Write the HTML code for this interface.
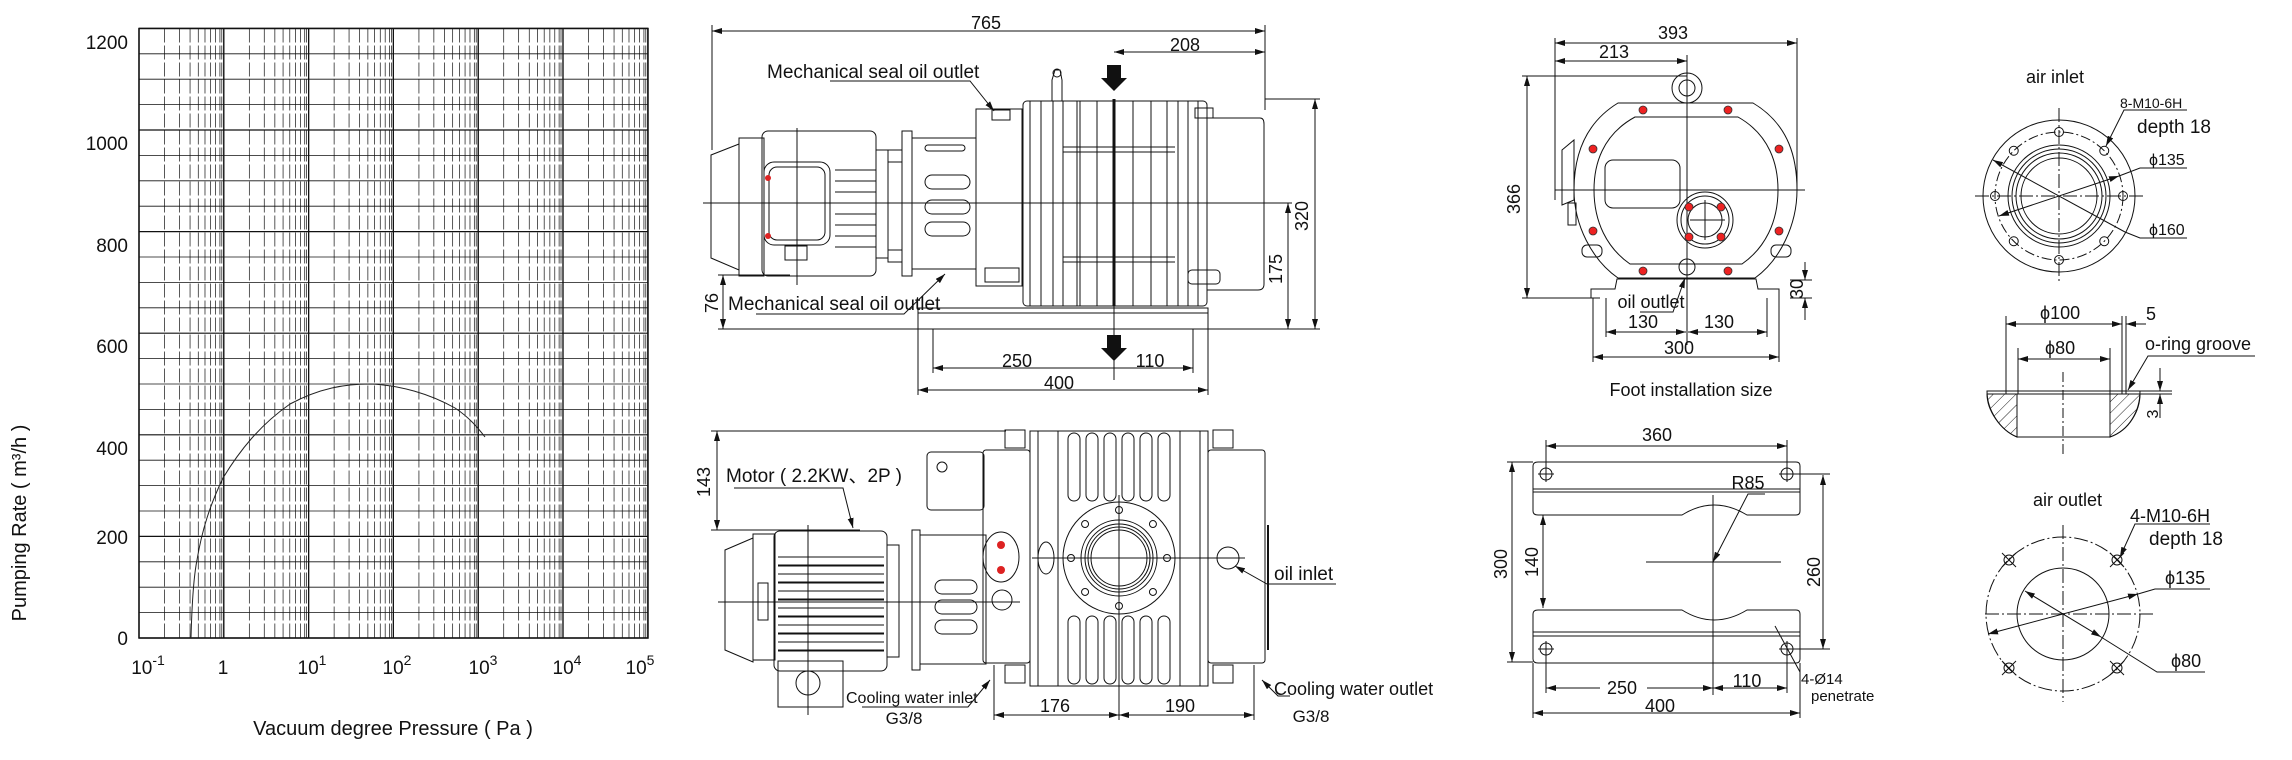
<!DOCTYPE html>
<html><head><meta charset="utf-8">
<style>
html,body{margin:0;padding:0;background:#fff;}
svg{display:block;}
text{font-family:"Liberation Sans",Arial,sans-serif;fill:#111;}
</style></head>
<body>
<svg id="s" width="2292" height="760" viewBox="0 0 2292 760" xmlns="http://www.w3.org/2000/svg">
<defs>
<marker id="a" viewBox="0 0 10 6" refX="10" refY="3" markerWidth="10" markerHeight="6" orient="auto-start-reverse" markerUnits="userSpaceOnUse"><path d="M0,0 L10,3 L0,6 z" fill="#111"/></marker>
<pattern id="h" width="8" height="8" patternUnits="userSpaceOnUse" patternTransform="rotate(45)"><line x1="0" y1="0" x2="0" y2="8" stroke="#222" stroke-width="1"/></pattern>
</defs>
<g id="grid" stroke="#111" fill="none"></g>
<rect x="139" y="28.5" width="509" height="609.5" fill="none" stroke="#111" stroke-width="1.5"/>
<path d="M191,638 C192,600 194,575 197,560 C202,530 210,505 223,478 C240,450 260,425 290,404 C320,388 345,384 370,384 C400,385 430,394 455,408 C470,418 478,428 485,437" fill="none" stroke="#222" stroke-width="1"/>
<g font-size="19" text-anchor="end">
<text x="128" y="49">1200</text><text x="128" y="150">1000</text><text x="128" y="252">800</text><text x="128" y="353">600</text><text x="128" y="455">400</text><text x="128" y="544">200</text><text x="128" y="645">0</text>
</g>
<g font-size="19" text-anchor="middle">
<text x="148" y="674">10<tspan dy="-9" font-size="14">-1</tspan></text>
<text x="223" y="674">1</text>
<text x="312" y="674">10<tspan dy="-9" font-size="14">1</tspan></text>
<text x="397" y="674">10<tspan dy="-9" font-size="14">2</tspan></text>
<text x="483" y="674">10<tspan dy="-9" font-size="14">3</tspan></text>
<text x="567" y="674">10<tspan dy="-9" font-size="14">4</tspan></text>
<text x="640" y="674">10<tspan dy="-9" font-size="14">5</tspan></text>
</g>
<text x="393" y="735" font-size="20" text-anchor="middle">Vacuum degree Pressure ( Pa )</text>
<text transform="translate(26,523) rotate(-90)" font-size="20" text-anchor="middle">Pumping Rate ( m³/h )</text>

<g stroke="#111" fill="none" stroke-width="1">
<line x1="712" y1="31" x2="1265" y2="31" marker-start="url(#a)" marker-end="url(#a)"/>
<line x1="712" y1="25" x2="712" y2="150"/><line x1="1265" y1="25" x2="1265" y2="110"/>
<line x1="1114" y1="52" x2="1265" y2="52" marker-start="url(#a)" marker-end="url(#a)"/>
<line x1="703" y1="203" x2="1292" y2="203"/>
<line x1="718" y1="329" x2="1320" y2="329"/>
<line x1="718" y1="275" x2="790" y2="275"/>
<line x1="723" y1="275" x2="723" y2="329" marker-start="url(#a)" marker-end="url(#a)"/>
<line x1="1265" y1="99" x2="1320" y2="99"/>
<line x1="1315" y1="99" x2="1315" y2="329" marker-start="url(#a)" marker-end="url(#a)"/>
<line x1="1288" y1="203" x2="1288" y2="329" marker-start="url(#a)" marker-end="url(#a)"/>
<path d="M739,144 L711,155 L711,258 L739,270 Z"/>
<rect x="739" y="138" width="25" height="138"/>
<rect x="762" y="131" width="114" height="145" rx="6"/>
<rect x="764" y="162" width="66" height="83" rx="10"/>
<rect x="769" y="167" width="56" height="73" rx="8"/>
<line x1="797" y1="128" x2="797" y2="285"/>
<rect x="785" y="246" width="22" height="14"/>
<g id="mfins"></g>
<rect x="876" y="150" width="12" height="108"/>
<rect x="888" y="150" width="14" height="12"/><rect x="888" y="250" width="14" height="12"/>
<rect x="902" y="131" width="10" height="145"/>
<rect x="912" y="138" width="64" height="131"/>
<rect x="925" y="175" width="45" height="14" rx="7"/><rect x="925" y="200" width="45" height="14" rx="7"/><rect x="925" y="222" width="45" height="14" rx="7"/>
<rect x="925" y="145" width="40" height="6" rx="3"/>
<rect x="976" y="109" width="46" height="177"/>
<rect x="992" y="110" width="18" height="10"/>
<rect x="985" y="268" width="34" height="14"/>
<rect x="1023" y="101" width="184" height="205" rx="4"/>
<path d="M1052,101 L1052,80 L1055,70 L1060,70 L1062,80 L1062,101"/>
<circle cx="1057" cy="73" r="4"/>
<g id="bfins"></g>
<line x1="1063" y1="147" x2="1175" y2="147"/><line x1="1063" y1="152" x2="1175" y2="152"/>
<line x1="1063" y1="257" x2="1175" y2="257"/><line x1="1063" y1="262" x2="1175" y2="262"/>
<path d="M1207,118 L1260,118 Q1264,118 1264,124 L1264,284 Q1264,290 1258,290 L1207,290"/>
<rect x="1195" y="108" width="18" height="10"/>
<rect x="1188" y="270" width="32" height="14" rx="4"/>
<rect x="918" y="308" width="290" height="21"/>
<line x1="918" y1="313" x2="1208" y2="313"/>
<line x1="918" y1="329" x2="918" y2="395"/><line x1="933" y1="329" x2="933" y2="373"/>
<line x1="1193" y1="329" x2="1193" y2="373"/><line x1="1208" y1="329" x2="1208" y2="395"/>
<line x1="933" y1="368" x2="1193" y2="368" marker-start="url(#a)" marker-end="url(#a)"/>
<line x1="918" y1="390" x2="1208" y2="390" marker-start="url(#a)" marker-end="url(#a)"/>
<polyline points="830,81 970,81 994,111" marker-end="url(#a)"/>
<polyline points="756,314 904,314 945,274" marker-end="url(#a)"/>
</g>
<line x1="1114" y1="99" x2="1114" y2="306" stroke="#111" stroke-width="3"/>
<line x1="1114" y1="306" x2="1114" y2="380" stroke="#111"/>
<path d="M1107,65 h14 v13 h6 l-13,13 l-13,-13 h6z" fill="#111"/>
<path d="M1107,335 h14 v13 h6 l-13,13 l-13,-13 h6z" fill="#111"/>
<circle cx="768" cy="178" r="3" fill="#d22"/><circle cx="768" cy="236" r="3" fill="#d22"/>
<g font-size="18" text-anchor="middle">
<text x="986" y="29">765</text><text x="1185" y="51">208</text>
<text x="1017" y="367">250</text><text x="1150" y="367">110</text><text x="1059" y="389">400</text>
<text transform="translate(1308,216) rotate(-90)">320</text>
<text transform="translate(1282,269) rotate(-90)">175</text>
<text transform="translate(718,303) rotate(-90)">76</text>
</g>
<text x="767" y="78" font-size="19">Mechanical seal oil outlet</text>
<text x="728" y="310" font-size="19">Mechanical seal oil outlet</text>

<g stroke="#111" fill="none" stroke-width="1">
<line x1="711" y1="431" x2="1006" y2="431"/>
<line x1="711" y1="530" x2="860" y2="530"/>
<line x1="717" y1="431" x2="717" y2="530" marker-start="url(#a)" marker-end="url(#a)"/>
<polyline points="734,488 843,488 853,528" marker-end="url(#a)"/>
<path d="M753,538 L725,550 L725,650 L753,662 Z"/>
<rect x="753" y="534" width="22" height="126"/>
<rect x="758" y="583" width="10" height="37"/>
<rect x="774" y="531" width="113" height="140" rx="6"/>
<g id="mfins2"></g>
<rect x="778" y="661" width="65" height="46"/>
<circle cx="808" cy="683" r="12"/>
<line x1="808" y1="525" x2="808" y2="715"/>
<rect x="887" y="545" width="12" height="112"/>
<rect x="912" y="530" width="8" height="140"/>
<rect x="920" y="535" width="66" height="129"/>
<rect x="935" y="580" width="42" height="14" rx="7"/><rect x="935" y="600" width="42" height="14" rx="7"/><rect x="935" y="620" width="42" height="14" rx="7"/>
<rect x="927" y="452" width="57" height="58" rx="4"/>
<circle cx="942" cy="467" r="5"/>
<rect x="983" y="450" width="47" height="213" rx="3"/>
<ellipse cx="1001" cy="557" rx="18" ry="25"/>
<circle cx="1002" cy="600" r="10"/>
<rect x="1030" y="431" width="178" height="255"/>
<line x1="1038" y1="431" x2="1038" y2="686"/><line x1="1058" y1="431" x2="1058" y2="686"/>
<line x1="1180" y1="431" x2="1180" y2="686"/><line x1="1200" y1="431" x2="1200" y2="686"/>
<g id="tfins"></g>
<circle cx="1119" cy="558" r="56"/>
<circle cx="1119" cy="558" r="38"/><circle cx="1119" cy="558" r="34"/><circle cx="1119" cy="558" r="31"/><circle cx="1119" cy="558" r="28"/>
<g id="fb"></g>
<ellipse cx="1046" cy="558" rx="8" ry="16"/>
<rect x="1208" y="450" width="57" height="213" rx="3"/>
<circle cx="1228" cy="558" r="11"/>
<line x1="1268" y1="525" x2="1268" y2="650" stroke-width="2"/>
<line x1="1032" y1="558" x2="1245" y2="558"/>
<line x1="718" y1="602" x2="1020" y2="602"/>
<line x1="1119" y1="495" x2="1119" y2="720"/>
<rect x="1005" y="430" width="20" height="18"/><rect x="1213" y="430" width="20" height="18"/>
<rect x="1005" y="665" width="20" height="18"/><rect x="1213" y="665" width="20" height="18"/>
<polyline points="1336,584 1267,584 1235,566" marker-end="url(#a)"/>
<line x1="994" y1="665" x2="994" y2="720"/><line x1="1254" y1="665" x2="1254" y2="720"/>
<line x1="994" y1="715" x2="1119" y2="715" marker-start="url(#a)" marker-end="url(#a)"/>
<line x1="1119" y1="715" x2="1254" y2="715" marker-start="url(#a)" marker-end="url(#a)"/>
<polyline points="862,707 968,707 990,680" marker-end="url(#a)"/>
<polyline points="1290,696 1278,696 1262,680" marker-end="url(#a)"/>
</g>
<circle cx="1001" cy="545" r="4" fill="#d22"/><circle cx="1001" cy="570" r="4" fill="#d22"/>
<g font-size="18" text-anchor="middle">
<text transform="translate(710,482) rotate(-90)">143</text>
<text x="1055" y="712">176</text><text x="1180" y="712">190</text>
<text x="904" y="724" font-size="17">G3/8</text><text x="1311" y="722" font-size="17">G3/8</text>
</g>
<text x="726" y="482" font-size="19">Motor ( 2.2KW、2P )</text>
<text x="1274" y="580" font-size="19">oil inlet</text>
<text x="846" y="703" font-size="16">Cooling water inlet</text>
<text x="1274" y="695" font-size="18">Cooling water outlet</text>

<g stroke="#111" fill="none" stroke-width="1">
<line x1="1555" y1="43" x2="1797" y2="43" marker-start="url(#a)" marker-end="url(#a)"/>
<line x1="1555" y1="61" x2="1687" y2="61" marker-start="url(#a)" marker-end="url(#a)"/>
<line x1="1555" y1="38" x2="1555" y2="200"/><line x1="1797" y1="38" x2="1797" y2="190"/>
<line x1="1522" y1="76" x2="1687" y2="76"/><line x1="1522" y1="298" x2="1600" y2="298"/>
<line x1="1527" y1="76" x2="1527" y2="298" marker-start="url(#a)" marker-end="url(#a)"/>
<path d="M1618,103 L1753,103 C1790,125 1797,160 1797,190 C1797,225 1780,260 1755,278 L1618,278 C1592,260 1574,225 1574,190 C1574,160 1582,125 1618,103 Z"/>
<path d="M1635,117 L1738,117 C1770,135 1778,165 1778,190 C1778,222 1765,248 1742,264 L1630,264 C1607,248 1594,222 1594,190 C1594,165 1602,135 1635,117 Z"/>
<circle cx="1687" cy="88" r="15"/><circle cx="1687" cy="88" r="8"/>
<rect x="1605" y="160" width="75" height="48" rx="8"/>
<circle cx="1705" cy="220" r="28"/><circle cx="1705" cy="220" r="24"/><circle cx="1705" cy="220" r="17"/>
<line x1="1690" y1="220" x2="1725" y2="220"/><line x1="1705" y1="200" x2="1705" y2="240"/>
<path d="M1562,150 L1574,140 L1574,200 L1562,205 Z"/>
<rect x="1568" y="203" width="8" height="22"/>
<rect x="1582" y="245" width="20" height="12" rx="5"/><rect x="1771" y="245" width="20" height="12" rx="5"/>
<circle cx="1687" cy="267" r="8"/>
<path d="M1591,298 L1591,289 L1615,289 L1617,279 L1756,279 L1758,289 L1779,289 L1779,298"/>
<line x1="1687" y1="55" x2="1687" y2="345"/>
<line x1="1555" y1="190" x2="1805" y2="190"/>
<line x1="1593" y1="298" x2="1593" y2="362"/><line x1="1779" y1="298" x2="1779" y2="362"/>
<line x1="1606" y1="298" x2="1606" y2="337"/><line x1="1767" y1="298" x2="1767" y2="337"/>
<line x1="1606" y1="332" x2="1686" y2="332" marker-start="url(#a)" marker-end="url(#a)"/>
<line x1="1688" y1="332" x2="1767" y2="332" marker-start="url(#a)" marker-end="url(#a)"/>
<line x1="1593" y1="357" x2="1779" y2="357" marker-start="url(#a)" marker-end="url(#a)"/>
<line x1="1790" y1="280" x2="1812" y2="280"/><line x1="1790" y1="298" x2="1812" y2="298"/>
<line x1="1805" y1="262" x2="1805" y2="280" marker-end="url(#a)"/><line x1="1805" y1="320" x2="1805" y2="298" marker-end="url(#a)"/>
<polyline points="1640,312 1673,312 1685,278" marker-end="url(#a)"/>
</g>
<g id="redb"></g>
<g font-size="18" text-anchor="middle">
<text x="1673" y="39">393</text><text x="1614" y="58">213</text>
<text transform="translate(1520,199) rotate(-90)">366</text>
<text transform="translate(1803,289) rotate(-90)">30</text>
<text x="1643" y="328">130</text><text x="1719" y="328">130</text><text x="1679" y="354">300</text>
<text x="1651" y="308">oil outlet</text>
<text x="1691" y="396">Foot installation size</text>
</g>

<g stroke="#111" fill="none" stroke-width="1">
<path d="M1538,462 L1796,462 Q1800,462 1800,466 L1800,511 Q1800,515 1796,515 L1747,515 Q1714,495 1682,515 L1538,515 Q1533,515 1533,511 L1533,466 Q1533,462 1538,462 Z"/>
<line x1="1533" y1="489" x2="1800" y2="489"/><line x1="1533" y1="492" x2="1800" y2="492"/>
<path d="M1538,610 L1682,610 Q1714,630 1747,610 L1796,610 Q1800,610 1800,614 L1800,659 Q1800,663 1796,663 L1538,663 Q1533,663 1533,659 L1533,614 Q1533,610 1538,610 Z"/>
<line x1="1533" y1="632" x2="1800" y2="632"/><line x1="1533" y1="636" x2="1800" y2="636"/>
<circle cx="1546" cy="474" r="6"/><circle cx="1787" cy="474" r="6"/><circle cx="1546" cy="649" r="6"/><circle cx="1787" cy="649" r="6"/>
<line x1="1538" y1="474" x2="1554" y2="474"/><line x1="1546" y1="466" x2="1546" y2="482"/>
<line x1="1779" y1="474" x2="1830" y2="474"/><line x1="1787" y1="466" x2="1787" y2="482"/>
<line x1="1538" y1="649" x2="1554" y2="649"/><line x1="1546" y1="641" x2="1546" y2="693"/>
<line x1="1779" y1="649" x2="1830" y2="649"/><line x1="1787" y1="641" x2="1787" y2="693"/>
<line x1="1713" y1="495" x2="1713" y2="695"/>
<line x1="1646" y1="562" x2="1781" y2="562"/>
<polyline points="1713,562 1748,494 1765,494" marker-start="url(#a)"/>
<line x1="1546" y1="446" x2="1787" y2="446" marker-start="url(#a)" marker-end="url(#a)"/>
<line x1="1546" y1="440" x2="1546" y2="470"/><line x1="1787" y1="440" x2="1787" y2="470"/>
<line x1="1507" y1="462" x2="1533" y2="462"/><line x1="1507" y1="662" x2="1533" y2="662"/>
<line x1="1512" y1="462" x2="1512" y2="662" marker-start="url(#a)" marker-end="url(#a)"/>
<line x1="1543" y1="515" x2="1543" y2="608" marker-start="url(#a)" marker-end="url(#a)"/>
<line x1="1823" y1="475" x2="1823" y2="649" marker-start="url(#a)" marker-end="url(#a)"/>
<line x1="1546" y1="688" x2="1600" y2="688" marker-start="url(#a)"/>
<line x1="1647" y1="688" x2="1713" y2="688" marker-end="url(#a)"/>
<line x1="1713" y1="688" x2="1787" y2="688" marker-start="url(#a)" marker-end="url(#a)"/>
<line x1="1533" y1="663" x2="1533" y2="718"/><line x1="1800" y1="663" x2="1800" y2="718"/>
<line x1="1533" y1="713" x2="1800" y2="713" marker-start="url(#a)" marker-end="url(#a)"/>
<line x1="1775" y1="626" x2="1800" y2="672"/>
</g>
<g font-size="18" text-anchor="middle">
<text x="1657" y="441">360</text><text x="1748" y="489">R85</text>
<text transform="translate(1507,564) rotate(-90)">300</text>
<text transform="translate(1538,562) rotate(-90)">140</text>
<text transform="translate(1820,572) rotate(-90)">260</text>
<text x="1622" y="694">250</text><text x="1747" y="687">110</text><text x="1660" y="712">400</text>
</g>
<text x="1801" y="684" font-size="15">4-Ø14</text>
<text x="1811" y="701" font-size="15">penetrate</text>

<g stroke="#111" fill="none" stroke-width="1">
<circle cx="2059" cy="196" r="76"/>
<circle cx="2059" cy="196" r="64" stroke-dasharray="10,3,2,3"/>
<circle cx="2059" cy="196" r="51"/><circle cx="2059" cy="196" r="47"/><circle cx="2059" cy="196" r="43"/><circle cx="2059" cy="196" r="38"/>
<line x1="1975" y1="196" x2="2146" y2="196" stroke-dasharray="14,3,2,3"/>
<line x1="2059" y1="108" x2="2059" y2="284" stroke-dasharray="14,3,2,3"/>
<g id="ib"></g>
<line x1="1993" y1="160" x2="2125" y2="232" marker-start="url(#a)"/>
<polyline points="2125,232 2140,238 2187,238"/>
<line x1="1999" y1="216" x2="2119" y2="176" marker-start="url(#a)" marker-end="url(#a)"/>
<polyline points="2119,176 2140,168 2187,168"/>
<polyline points="2187,110 2124,110 2106,146" marker-end="url(#a)"/>
<path d="M1987,391 L2140,391 C2140,410 2130,430 2110,437 L2017,437 C2000,430 1987,410 1987,391 Z" fill="none"/>
<path d="M1987,394 L2017,394 L2017,437 C2000,430 1987,410 1987,394 Z" fill="url(#h)"/>
<path d="M2110,394 L2140,394 C2140,410 2130,430 2110,437 Z" fill="url(#h)"/>
<line x1="1987" y1="394" x2="2172" y2="394"/><line x1="2140" y1="391" x2="2172" y2="391"/>
<line x1="2006" y1="316" x2="2006" y2="394"/><line x1="2126" y1="316" x2="2126" y2="394"/><line x1="2122" y1="316" x2="2122" y2="394"/>
<line x1="2018" y1="348" x2="2018" y2="394"/><line x1="2110" y1="348" x2="2110" y2="394"/>
<line x1="2006" y1="324" x2="2122" y2="324" marker-start="url(#a)" marker-end="url(#a)"/>
<line x1="2146" y1="324" x2="2126" y2="324" marker-end="url(#a)"/>
<line x1="2018" y1="359" x2="2110" y2="359" marker-start="url(#a)" marker-end="url(#a)"/>
<polyline points="2255,356 2148,356 2128,390" marker-end="url(#a)"/>
<line x1="2160" y1="368" x2="2160" y2="391" marker-end="url(#a)"/>
<line x1="2160" y1="418" x2="2160" y2="394" marker-end="url(#a)"/>
<line x1="2063" y1="372" x2="2063" y2="455" stroke-dasharray="10,3,2,3"/>
<circle cx="2063" cy="614" r="77" stroke-dasharray="14,3,2,3"/>
<circle cx="2063" cy="614" r="46"/>
<line x1="1985" y1="614" x2="2153" y2="614" stroke-dasharray="14,3,2,3"/>
<line x1="2063" y1="525" x2="2063" y2="702" stroke-dasharray="14,3,2,3"/>
<g id="ob"></g>
<line x1="2025" y1="591" x2="2101" y2="637" marker-start="url(#a)" marker-end="url(#a)"/>
<polyline points="2101,637 2157,672 2205,672"/>
<line x1="1988" y1="634" x2="2138" y2="594" marker-start="url(#a)" marker-end="url(#a)"/>
<polyline points="2138,594 2155,589 2210,589"/>
<polyline points="2210,524 2135,524 2120,557" marker-end="url(#a)"/>
</g>
<g font-size="18">
<text x="2026" y="83">air inlet</text>
<text x="2033" y="506">air outlet</text>
<text x="2120" y="108" font-size="14" font-family="Liberation Mono">8-M10-6H</text>
<text x="2137" y="133" font-size="19">depth 18</text>
<text x="2149" y="165" font-size="16">ϕ135</text>
<text x="2149" y="235" font-size="16">ϕ160</text>
<text x="2040" y="319">ϕ100</text>
<text x="2146" y="320">5</text>
<text x="2045" y="354">ϕ80</text>
<text x="2145" y="350">o-ring groove</text>
<text transform="translate(2158,414) rotate(-90)" font-size="16" text-anchor="middle">3</text>
<text x="2130" y="522" font-size="18" font-family="Liberation Mono">4-M10-6H</text>
<text x="2149" y="545" font-size="19">depth 18</text>
<text x="2165" y="584">ϕ135</text>
<text x="2171" y="667">ϕ80</text>
</g>
</svg>
<script>
var NS="http://www.w3.org/2000/svg";
function el(p,t,a){var e=document.createElementNS(NS,t);for(var k in a)e.setAttribute(k,a[k]);p.appendChild(e);return e;}
var g=document.getElementById("grid");
for(var i=0;i<=24;i++){var y=638-i*25.4;el(g,"line",{x1:139,x2:648,y1:y,y2:y,"stroke-width":(i%4==0?1.2:0.8)});}
var d0=139,dw=84.8;
for(var d=0;d<6;d++){for(var m=1;m<=10;m++){var x=d0+d*dw+Math.log10(m)*dw;
 if(m==1||m==10){el(g,"line",{x1:x,x2:x,y1:28.5,y2:638,"stroke-width":1.2});}
 else el(g,"line",{x1:x,x2:x,y1:28.5,y2:638,"stroke-width":0.7,"stroke-dasharray":"14,3"});
 if(m==10){el(g,"line",{x1:x-2,x2:x-2,y1:28.5,y2:638,"stroke-width":0.7,"stroke-dasharray":"14,3"});}
}}
var mf=document.getElementById("mfins");
for(var i=0;i<8;i++){var y=170+i*11;el(mf,"line",{x1:835,x2:876,y1:y,y2:y});}
var bf=document.getElementById("bfins");
[1030,1041,1053,1063,1077,1080,1097,1115,1133,1151,1167,1178,1188,1198].forEach(function(x){el(bf,"line",{x1:x,x2:x,y1:101,y2:306});});
var m2=document.getElementById("mfins2");
for(var i=0;i<12;i++){var y=557+i*8.5;el(m2,"line",{x1:778,x2:884,y1:y,y2:y,"stroke-width":(i%2?2:1)});}
var tf=document.getElementById("tfins");
for(var i=0;i<6;i++){var x=1068+i*18;el(tf,"rect",{x:x,y:433,width:12,height:68,rx:6});el(tf,"rect",{x:x,y:616,width:12,height:68,rx:6});}
var fb=document.getElementById("fb");
for(var i=0;i<8;i++){var a=i*Math.PI/4;el(fb,"circle",{cx:1119+48*Math.sin(a),cy:558-48*Math.cos(a),r:3.5});}
var rb=document.getElementById("redb");
[[1643,110],[1728,110],[1593,149],[1779,149],[1593,231],[1779,231],[1643,271],[1728,271],[1689,207],[1721,207],[1689,237],[1721,237]].forEach(function(p){
 el(rb,"circle",{cx:p[0],cy:p[1],r:4,fill:"#e22",stroke:"#333","stroke-width":0.8});});
var ib=document.getElementById("ib");
for(var i=0;i<8;i++){var a=i*Math.PI/4;el(ib,"circle",{cx:2059+64*Math.sin(a),cy:196-64*Math.cos(a),r:4.5});}
var ob=document.getElementById("ob");
[[1,1],[1,-1],[-1,1],[-1,-1]].forEach(function(s){var cx=2063+54*s[0],cy=614+54*s[1];el(ob,"circle",{cx:cx,cy:cy,r:5});
 el(ob,"line",{x1:cx-7,y1:cy-7,x2:cx+7,y2:cy+7});el(ob,"line",{x1:cx-7,y1:cy+7,x2:cx+7,y2:cy-7});});
</script>
</body></html>
